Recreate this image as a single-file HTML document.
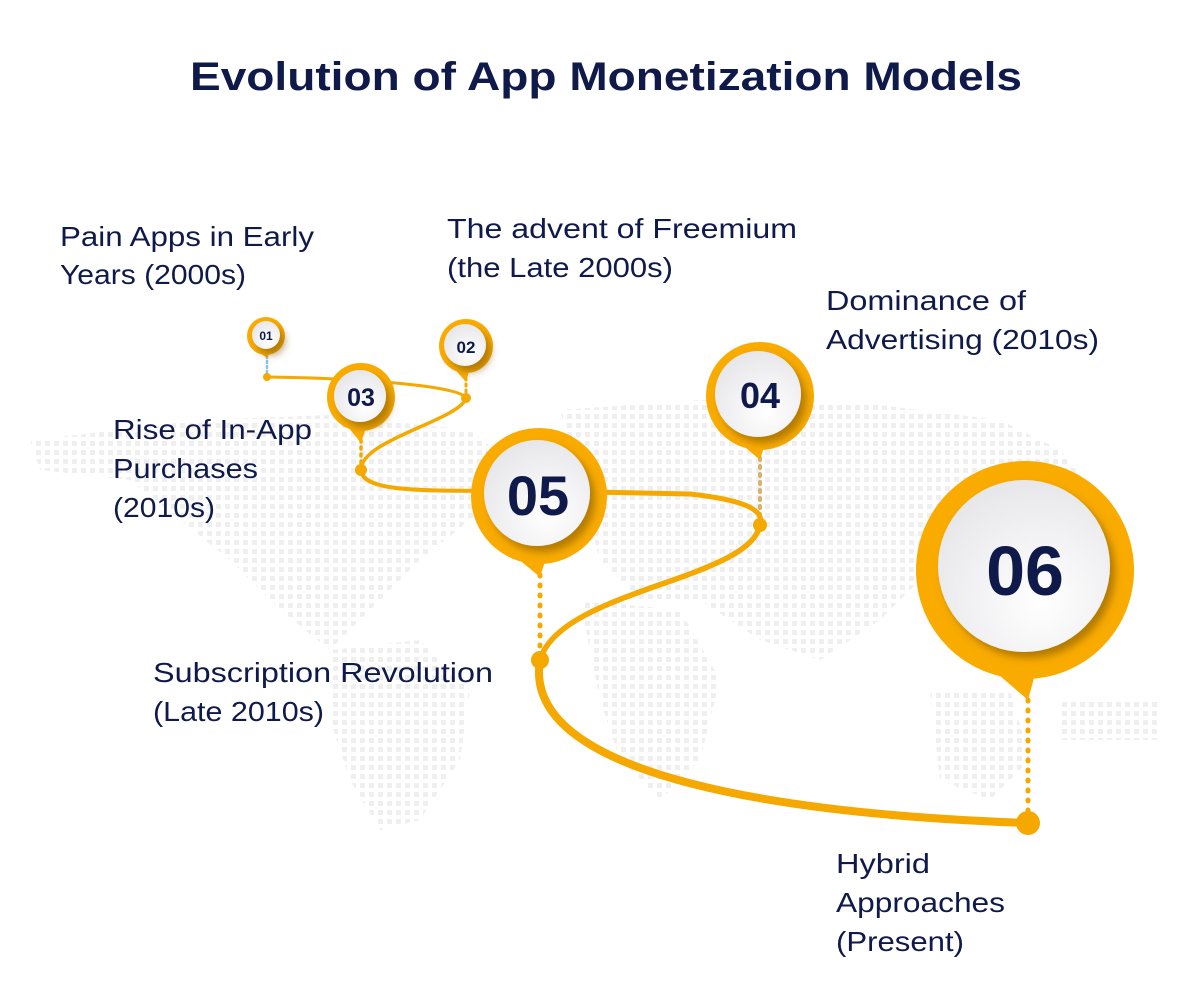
<!DOCTYPE html>
<html><head><meta charset="utf-8"><style>
html,body{margin:0;padding:0;background:#fff;}
svg{display:block;font-family:"Liberation Sans",sans-serif;}
</style></head><body>
<svg width="1200" height="1001" viewBox="0 0 1200 1001" xmlns="http://www.w3.org/2000/svg">
<defs>
<pattern id="dots" width="9" height="9" patternUnits="userSpaceOnUse"><rect width="5" height="5" fill="#efefef"/></pattern>
<radialGradient id="face" cx="0.6" cy="0.7" r="0.8"><stop offset="0" stop-color="#ffffff"/><stop offset="1" stop-color="#e4e4e8"/></radialGradient>
<filter id="sh" x="-30%" y="-30%" width="160%" height="160%"><feDropShadow dx="5" dy="6" stdDeviation="4" flood-color="#7a5200" flood-opacity="0.55"/></filter>
</defs>
<g fill="url(#dots)">
<polygon points="30,440 120,430 200,420 330,415 470,430 520,470 470,520 420,560 380,600 330,650 280,610 230,560 180,520 130,480 40,470"/>
<polygon points="330,650 420,640 470,690 460,760 420,820 380,830 350,780 330,720"/>
<polygon points="560,410 700,400 880,405 1000,420 1060,450 1100,500 1000,520 940,560 880,620 820,660 760,640 700,600 640,600 600,560"/>
<polygon points="580,600 680,610 720,680 700,760 660,800 620,760 600,700"/>
<polygon points="930,690 1010,690 1030,760 990,800 940,780"/>
<polygon points="1060,700 1160,700 1160,740 1060,740"/>
</g>
<text x="190" y="90" textLength="832" lengthAdjust="spacingAndGlyphs" font-size="40" font-weight="bold" fill="#0f1a4a">Evolution of App Monetization Models</text>
<g font-size="28" fill="#0f1a4a" lengthAdjust="spacingAndGlyphs">
<text x="60" y="246" textLength="254" lengthAdjust="spacingAndGlyphs">Pain Apps in Early</text><text x="60" y="284" textLength="186" lengthAdjust="spacingAndGlyphs">Years (2000s)</text>
<text x="447" y="238" textLength="350" lengthAdjust="spacingAndGlyphs">The advent of Freemium</text><text x="447" y="277" textLength="226" lengthAdjust="spacingAndGlyphs">(the Late 2000s)</text>
<text x="826" y="310" textLength="200" lengthAdjust="spacingAndGlyphs">Dominance of</text><text x="826" y="349" textLength="273" lengthAdjust="spacingAndGlyphs">Advertising (2010s)</text>
<text x="113" y="439" textLength="199" lengthAdjust="spacingAndGlyphs">Rise of In-App</text><text x="113" y="478" textLength="145" lengthAdjust="spacingAndGlyphs">Purchases</text><text x="113" y="517" textLength="102" lengthAdjust="spacingAndGlyphs">(2010s)</text>
<text x="153" y="682" textLength="340" lengthAdjust="spacingAndGlyphs">Subscription Revolution</text><text x="153" y="721" textLength="171" lengthAdjust="spacingAndGlyphs">(Late 2010s)</text>
<text x="836" y="873" textLength="94" lengthAdjust="spacingAndGlyphs">Hybrid</text><text x="836" y="912" textLength="169" lengthAdjust="spacingAndGlyphs">Approaches</text><text x="836" y="951" textLength="128" lengthAdjust="spacingAndGlyphs">(Present)</text>
</g>
<g fill="none" stroke-linecap="round">
<line x1="267" y1="356" x2="267" y2="377" stroke="#7ec8f0" stroke-width="2.5" stroke-dasharray="2 3"/>
<line x1="466" y1="378" x2="466" y2="398" stroke="#f5a800" stroke-width="3" stroke-dasharray="2 4"/>
<line x1="361" y1="440" x2="361" y2="470" stroke="#f5a800" stroke-width="3.5" stroke-dasharray="2 5"/>
<line x1="760" y1="450" x2="760" y2="525" stroke="#d8b070" stroke-width="4" stroke-dasharray="2 6"/>
<line x1="540" y1="575" x2="540" y2="660" stroke="#f5a800" stroke-width="5" stroke-dasharray="1 9"/>
<line x1="1028" y1="700" x2="1028" y2="823" stroke="#f5a800" stroke-width="5" stroke-dasharray="1 9"/>
</g>
<g fill="none" stroke="#f5a800">
<path d="M267,377 C350,378 460,385 466,398" stroke-width="3"/>
<path d="M466,398 C460,420 360,440 361,470" stroke-width="3.5"/>
<path d="M361,470 C362,495 440,490 540,491" stroke-width="4"/>
<path d="M540,491 L690,494 C745,500 765,510 760,525" stroke-width="5"/>
<path d="M760,525 C750,580 560,590 540,660" stroke-width="5.5"/>
<path d="M540,660 C520,780 800,815 1028,823" stroke-width="8"/>
</g>
<g fill="#f5a800">
<circle cx="267" cy="377" r="4"/><circle cx="466" cy="398" r="5"/><circle cx="361" cy="470" r="6"/>
<circle cx="760" cy="525" r="7"/><circle cx="540" cy="660" r="9"/><circle cx="1028" cy="823" r="12"/>
</g>
<g fill="#f9ab00">
<circle cx="266" cy="336" r="19"/><polygon points="256,350 270,352 267,358"/>
<circle cx="466" cy="346" r="27"/><polygon points="452,366 470,368 466,382"/>
<circle cx="361" cy="397" r="34"/><polygon points="344,422 367,424 361,443"/>
<circle cx="760" cy="396" r="54"/><polygon points="732,436 766,440 760,460"/>
<circle cx="539" cy="496" r="68"/><polygon points="505,548 548,552 540,577"/>
<circle cx="1025" cy="570" r="109"/><polygon points="970,650 1040,656 1028,700"/>
</g>
<g fill="url(#face)" filter="url(#sh)">
<circle cx="266" cy="335" r="14"/>
<circle cx="465" cy="345" r="21"/>
<circle cx="360" cy="396" r="26"/>
<circle cx="758" cy="394" r="43"/>
<circle cx="537" cy="493" r="53"/>
<circle cx="1024" cy="566" r="86"/>
</g>
<g fill="#0f1a4a" font-weight="bold" text-anchor="middle">
<text x="266" y="340" font-size="12">01</text>
<text x="466" y="353" font-size="17">02</text>
<text x="361" y="406" font-size="25">03</text>
<text x="760" y="408" font-size="36">04</text>
<text x="538" y="515" font-size="56">05</text>
<text x="1025" y="595" font-size="70">06</text>
</g>
</svg>
</body></html>
